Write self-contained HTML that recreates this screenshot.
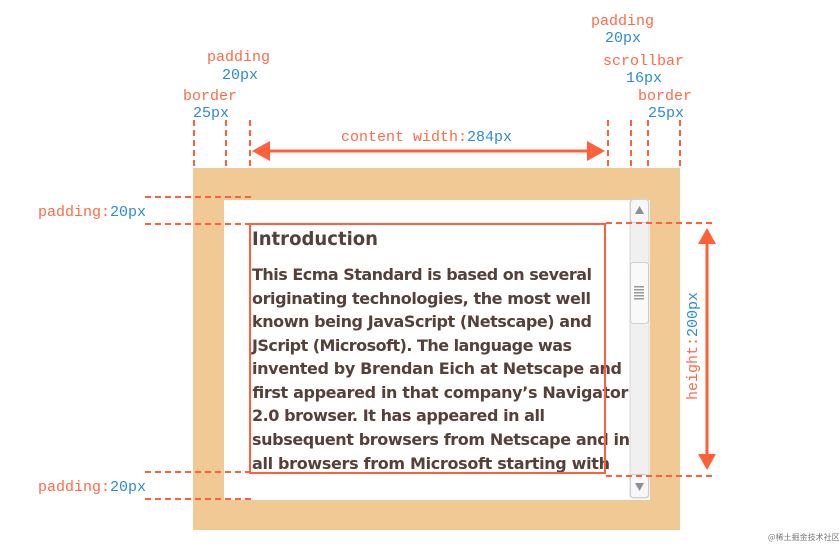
<!DOCTYPE html>
<html><head><meta charset="utf-8"><style>
html,body{margin:0;padding:0;background:#fff;}
svg{display:block}
.m{font-family:"Liberation Mono",monospace;font-size:15px}
.o{fill:#ff6a45}.b{fill:#2d8ad4}
.t{font-family:"DejaVu Sans","Liberation Sans",sans-serif;font-weight:bold;font-size:16px;fill:#55403a}
</style></head><body>
<svg width="839" height="551" viewBox="0 0 839 551" xmlns="http://www.w3.org/2000/svg">
<defs><clipPath id="c"><rect x="224" y="200" width="406" height="300"/></clipPath></defs>
<rect x="193" y="168" width="487" height="362" fill="#f1c994"/>
<rect x="224" y="200" width="426" height="300" fill="#fff"/>
<rect x="630" y="199" width="19" height="299" rx="3" fill="#f0f0f0" stroke="#d8d8d8"/>
<rect x="630.5" y="199.5" width="18" height="23" rx="3" fill="#f7f7f7" stroke="#cfcfcf"/>
<rect x="630.5" y="474.5" width="18" height="23" rx="3" fill="#f7f7f7" stroke="#cfcfcf"/>
<polygon points="639.5,206 635,214 644,214" fill="#8a9099"/>
<polygon points="639.5,491 635,483 644,483" fill="#8a9099"/>
<rect x="630.5" y="262.5" width="18" height="61" rx="3" fill="#f9f9f9" stroke="#cfcfcf"/>
<g fill="#999"><rect x="634" y="286" width="10" height="1.5"/><rect x="634" y="289" width="10" height="1.5"/><rect x="634" y="292" width="10" height="1.5"/><rect x="634" y="295" width="10" height="1.5"/><rect x="634" y="298" width="10" height="1.5"/></g>
<g clip-path="url(#c)">
<text x="252" y="245" class="t" style="font-size:19px" textLength="126" lengthAdjust="spacingAndGlyphs">Introduction</text>
<text class="t" lengthAdjust="spacingAndGlyphs">
<tspan x="252" y="280" textLength="340">This Ecma Standard is based on several</tspan>
<tspan x="252" y="304" textLength="339">originating technologies, the most well</tspan>
<tspan x="252" y="327" textLength="340">known being JavaScript (Netscape) and</tspan>
<tspan x="252" y="351" textLength="320">JScript (Microsoft). The language was</tspan>
<tspan x="252" y="374" textLength="370">invented by Brendan Eich at Netscape and</tspan>
<tspan x="252" y="398" textLength="376">first appeared in that company’s Navigator</tspan>
<tspan x="252" y="421" textLength="293">2.0 browser. It has appeared in all</tspan>
<tspan x="252" y="445" textLength="378">subsequent browsers from Netscape and in</tspan>
<tspan x="252" y="469" textLength="358">all browsers from Microsoft starting with</tspan>
</text>
</g>
<rect x="250" y="224" width="355" height="249" fill="none" stroke="#ff6039" stroke-width="2"/>
<g stroke="#ff6039" stroke-width="2" stroke-dasharray="6,4" fill="none">
<line x1="194" y1="120" x2="194" y2="168"/><line x1="226" y1="120" x2="226" y2="168"/><line x1="250" y1="120" x2="250" y2="168"/>
<line x1="608" y1="120" x2="608" y2="168"/><line x1="631" y1="120" x2="631" y2="168"/><line x1="648" y1="120" x2="648" y2="168"/><line x1="680" y1="120" x2="680" y2="168"/>
<line x1="145" y1="197" x2="252" y2="197"/><line x1="145" y1="224" x2="250" y2="224"/>
<line x1="145" y1="472" x2="250" y2="472"/><line x1="145" y1="499" x2="252" y2="499"/>
<line x1="606" y1="223" x2="713" y2="223"/><line x1="606" y1="476" x2="713" y2="476"/>
</g>
<g stroke="#ff6039" stroke-width="3"><line x1="262" y1="151" x2="594" y2="151"/><line x1="707" y1="238" x2="707" y2="460"/></g>
<g fill="#ff6039">
<polygon points="252,151 270,141 270,161"/><polygon points="605,151 587,141 587,161"/>
<polygon points="707,228 698,244 716,244"/><polygon points="707,470 698,454 716,454"/>
</g>
<text x="341" y="141" class="m"><tspan class="o">content width:</tspan><tspan class="b">284px</tspan></text>
<text x="38" y="216" class="m"><tspan class="o">padding:</tspan><tspan class="b">20px</tspan></text>
<text x="38" y="491" class="m"><tspan class="o">padding:</tspan><tspan class="b">20px</tspan></text>
<text x="207" y="61" class="m o">padding</text><text x="222" y="79" class="m b">20px</text>
<text x="183" y="100" class="m o">border</text><text x="193" y="117" class="m b">25px</text>
<text x="591" y="25" class="m o">padding</text><text x="605" y="42" class="m b">20px</text>
<text x="603" y="65" class="m o">scrollbar</text><text x="626" y="82" class="m b">16px</text>
<text x="638" y="100" class="m o">border</text><text x="648" y="117" class="m b">25px</text>
<text transform="translate(697,400) rotate(-90)" class="m"><tspan class="o">height:</tspan><tspan class="b">200px</tspan></text>
<text x="768" y="540" font-family="'Noto Sans CJK SC',sans-serif" font-size="8" fill="#777">@稀土掘金技术社区</text>
</svg>
</body></html>
